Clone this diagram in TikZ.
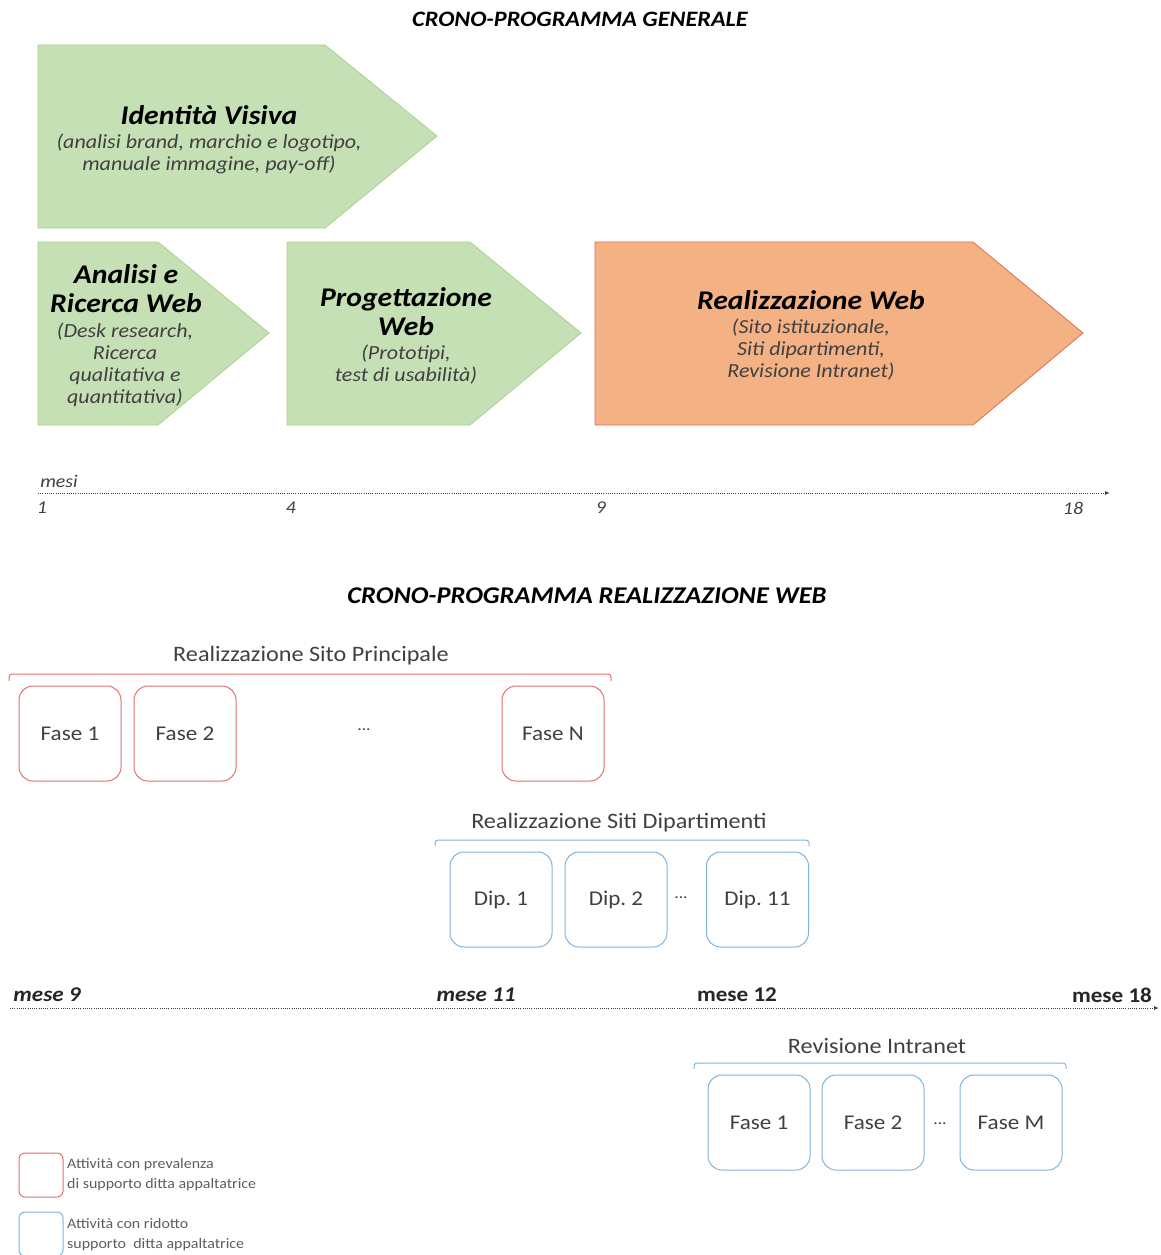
\documentclass[tikz,border=0pt]{standalone}
\usepackage{fontspec}
\setmainfont{Carlito}[FakeStretch=1.1]
\usetikzlibrary{arrows.meta}
\frenchspacing
\definecolor{grfill}{HTML}{C5E0B4}
\definecolor{grline}{HTML}{A9D18E}
\definecolor{orfill}{HTML}{F4B183}
\definecolor{orline}{HTML}{E06C55}
\definecolor{redbox}{HTML}{E46F6F}
\definecolor{bluebox}{HTML}{7DB3E3}
\definecolor{txt}{HTML}{404040}
\definecolor{axis}{HTML}{404040}
\tikzset{
  greenarrow/.style={fill=grfill,draw=grline,line width=0.8pt},
  orangearrow/.style={fill=orfill,draw=orline,line width=0.8pt},
  bigtitle/.style={inner sep=0pt,align=center,text=black,font=\fontsize{27}{29}\selectfont\bfseries\itshape},
  subtext/.style={inner sep=0pt,align=center,text=txt,font=\fontsize{20}{22}\selectfont\itshape},
  phasebox/.style={draw,line width=1pt,rounded corners=14pt,minimum width=102pt,minimum height=95pt,text=txt,font=\fontsize{21}{24}\selectfont},
  redphase/.style={phasebox,draw=redbox},
  bluephase/.style={phasebox,draw=bluebox},
  grouplabel/.style={inner sep=0pt,text=txt,font=\fontsize{22}{24}\selectfont},
  dots/.style={inner sep=0pt,text=txt,font=\fontsize{16}{18}\selectfont},
  axisline/.style={axis,line width=1pt,dash pattern=on 1pt off 1.2pt,-{Latex[length=5pt,width=4pt]}},
  axislabel/.style={inner sep=0pt,text=axis,font=\fontsize{18}{20}\selectfont\itshape},
  monthlabel/.style={inner sep=0pt,text=black!85,font=\fontsize{21}{24}\selectfont\bfseries},
  legendtext/.style={inner sep=0pt,anchor=west,align=left,text=txt!85,font=\fontsize{14.5}{19.5}\selectfont},
  sectiontitle/.style={inner sep=0pt,text=black,font=\bfseries\itshape}
}
\begin{document}
\begin{tikzpicture}[x=1pt,y=-1pt]
\useasboundingbox (0,0) rectangle (1161,1255);

% titles
\node[sectiontitle,font=\fontsize{22}{24}\selectfont\bfseries\itshape] (t1) at (580,19) {CRONO-PROGRAMMA GENERALE};
\node[sectiontitle,font=\fontsize{24}{28}\selectfont\bfseries\itshape] (t2) at (587,596) {CRONO-PROGRAMMA REALIZZAZIONE WEB};

% arrows
\draw[greenarrow] (38,45) -- (325,45) -- (437,136) -- (325,228) -- (38,228) -- cycle;
\draw[greenarrow] (38,242) -- (158,242) -- (269,333) -- (158,425) -- (38,425) -- cycle;
\draw[greenarrow] (287,242) -- (470,242) -- (581,333) -- (470,425) -- (287,425) -- cycle;
\draw[orangearrow] (595,242) -- (973,242) -- (1083,333) -- (973,425) -- (595,425) -- cycle;

\node[bigtitle] (iv) at (209,115) {Identità Visiva};
\node[subtext] (ivs) at (209,154) {(analisi brand, marchio e logotipo,\\manuale immagine, pay-off)};
\node[bigtitle] (ar) at (126,288.5) {Analisi e\\Ricerca Web};
\node[subtext] (ars) at (125,365) {(Desk research,\\Ricerca\\qualitativa e\\quantitativa)};
\node[bigtitle] (pw) at (406,311.5) {Progettazione\\Web};
\node[subtext] (pws) at (406,365) {(Prototipi,\\test di usabilità)};
\node[bigtitle] (rw) at (811,300) {Realizzazione Web};
\node[subtext] (rws) at (811,350) {(Sito istituzionale,\\Siti dipartimenti,\\Revisione Intranet)};

% axis 1
\coordinate (a1s) at (38,493);
\coordinate (a1e) at (1110,493);
\draw[axisline] (a1s) -- (a1e);
\node[axislabel] (mesi) at (59,481) {mesi};
\node[axislabel] (m1) at (42,508) {1};
\node[axislabel] (m4) at (291,508) {4};
\node[axislabel] (m9) at (601,508) {9};
\node[axislabel] (m18) at (1073,508) {18};

% sito principale
\node[grouplabel] (gsp) at (311,656) {Realizzazione Sito Principale};
\draw[redbox,line width=1pt,rounded corners=3pt] (9,681) |- (611,674) -- (611,681);
\node[redphase] (sp1) at (70,733.5) {Fase 1};
\node[redphase] (sp2) at (185,733.5) {Fase 2};
\node[dots] (spd) at (364,730) {...};
\node[redphase] (spn) at (553,733.5) {Fase N};

% dipartimenti
\node[grouplabel] (gsd) at (619,823) {Realizzazione Siti Dipartimenti};
\draw[bluebox,line width=1pt,rounded corners=3pt] (435,846) |- (809,840) -- (809,846);
\node[bluephase] (d1) at (501,899.5) {Dip. 1};
\node[bluephase] (d2) at (616,899.5) {Dip. 2};
\node[dots] (dd) at (681,898) {...};
\node[bluephase] (d11) at (757.5,899.5) {Dip. 11};

% axis 2
\coordinate (a2s) at (10,1008);
\coordinate (a2e) at (1159,1008);
\draw[axisline] (a2s) -- (a2e);
\node[monthlabel,font=\fontsize{21}{24}\selectfont\bfseries\itshape] (ms9) at (47,995) {mese 9};
\node[monthlabel,font=\fontsize{21}{24}\selectfont\bfseries\itshape] (ms11) at (476,995) {mese 11};
\node[monthlabel] (ms12) at (737,995) {mese 12};
\node[monthlabel] (ms18) at (1112,995) {mese 18};

% intranet
\node[grouplabel] (gri) at (877,1046) {Revisione Intranet};
\draw[bluebox,line width=1pt,rounded corners=3pt] (694,1069) |- (1066,1063) -- (1066,1069);
\node[bluephase] (i1) at (759,1122.5) {Fase 1};
\node[bluephase] (i2) at (873,1122.5) {Fase 2};
\node[dots] (id) at (940,1124) {...};
\node[bluephase] (im) at (1011,1122.5) {Fase M};

% legend
\node[draw=redbox,line width=1pt,rounded corners=6pt,minimum width=44pt,minimum height=44pt,inner sep=0pt] (lr) at (41,1175) {};
\node[legendtext] (lrt) at (67,1174.5) {Attività con prevalenza\\di supporto ditta appaltatrice};
\node[draw=bluebox,line width=1pt,rounded corners=6pt,minimum width=44pt,minimum height=44pt,inner sep=0pt] (lb) at (41,1234) {};
\node[legendtext] (lbt) at (67,1234.5) {Attività con ridotto\\supporto\ \ ditta appaltatrice};
\end{tikzpicture}
\end{document}
